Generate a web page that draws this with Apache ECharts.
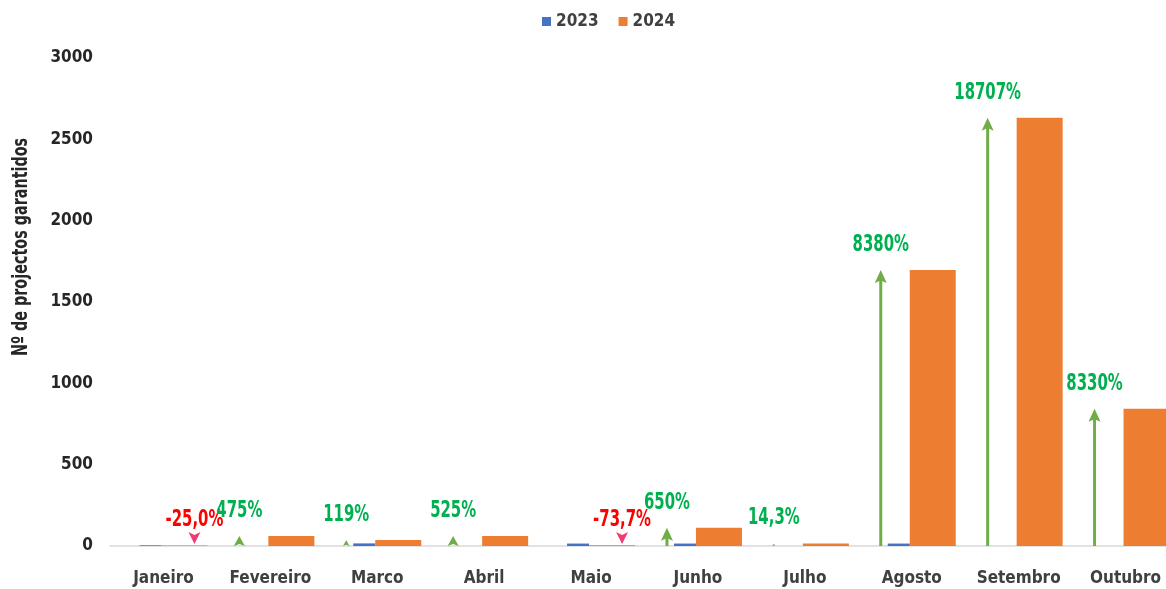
<!DOCTYPE html>
<html>
<head>
<meta charset="utf-8">
<script src="https://cdn.jsdelivr.net/npm/echarts@6/dist/echarts.min.js"></script>
<style>
  html, body { margin: 0; padding: 0; background: #fff; }
  #chart { width: 1166px; height: 589px; }
</style>
</head>
<body>
<div id="chart"></div>
<script>
// meses
var categories = ['Janeiro', 'Fevereiro', 'Marco', 'Abril', 'Maio', 'Junho', 'Julho', 'Agosto', 'Setembro', 'Outubro']
// Nº de projectos garantidos
var values2023 = [4, 0, 16, 0, 15, 15, 0, 15, 0, 0]
var values2024 = [3, 62, 37, 62, 5, 112, 16, 1696, 2633, 843]
// variação 2024 vs 2023
var variationLabels = ['-25,0%', '475%', '119%', '525%', '-73,7%', '650%', '14,3%', '8380%', '18707%', '8330%']
var yTicks = [0, 500, 1000, 1500, 2000, 2500, 3000]

var FONT = "'DejaVu Sans Condensed', 'Liberation Sans Narrow', sans-serif"
var GREEN = '#70AD47'
var GREEN_TXT = '#00B050'
var RED_TXT = '#FF0000'
var PINK = '#EE3A75'

var chart = echarts.init(document.getElementById('chart'))

function pctText(x, y, text, color) {
  return {
    type: 'text',
    x: x, y: y,
    scaleX: 0.72,
    style: { text: text, fill: color, font: 'bold 23px ' + FONT, align: 'center', verticalAlign: 'middle' }
  }
}

function renderArrow(params, api) {
  var i = params.dataIndex
  var base = api.coord([i, 0])
  var cx = base[0], by = base[1]
  var label = variationLabels[i]
  var up = label.charAt(0) !== '-'
  var children = []
  if (up) {
    var ax = cx - 31
    var top = api.coord([i, api.value(1)])[1]
    var len = by - top
    var h = Math.min(13, len)
    var w = Math.min(12, len * 1.1)
    if (len > h) {
      children.push({
        type: 'line',
        shape: { x1: ax, y1: by, x2: ax, y2: top + h * 0.7 },
        style: { stroke: GREEN, lineWidth: 3 }
      })
    }
    children.push({
      type: 'polygon',
      shape: { points: [[ax, top], [ax - w / 2, top + h], [ax, top + h * 0.8], [ax + w / 2, top + h]] },
      style: { fill: GREEN }
    })
    children.push(pctText(ax, top - 25, label, GREEN_TXT))
  } else {
    var dx = cx + 31
    var tip = by - 2
    children.push({
      type: 'polygon',
      shape: { points: [[dx, tip], [dx - 6, tip - 12], [dx, tip - 9], [dx + 6, tip - 12]] },
      style: { fill: PINK }
    })
    children.push(pctText(dx, by - 26, label, RED_TXT))
  }
  return { type: 'group', children: children }
}

chart.setOption({
  animation: false,
  legend: {
    data: ['2023', '2024'],
    left: 537,
    top: 8,
    itemWidth: 9,
    itemHeight: 9,
    itemGap: 20,
    icon: 'rect',
    textStyle: { fontFamily: FONT, fontWeight: 'bold', fontSize: 17, color: '#404040' }
  },
  grid: {
    left: 110,
    width: 1069,
    top: 58,
    bottom: 43,
    containLabel: false,
    outerBoundsMode: 'none'
  },
  xAxis: {
    type: 'category',
    data: categories,
    axisTick: { show: false },
    axisLine: { lineStyle: { color: '#D9D9D9', width: 1.5 } },
    axisLabel: {
      margin: 24,
      fontFamily: FONT,
      fontWeight: 'bold',
      fontSize: 17,
      color: '#404040',
      interval: 0
    }
  },
  yAxis: {
    type: 'value',
    min: yTicks[0],
    max: yTicks[yTicks.length - 1],
    interval: 500,
    splitLine: { show: false },
    axisLine: { show: false },
    axisTick: { show: false },
    axisLabel: {
      margin: 17,
      fontFamily: FONT,
      fontWeight: 'bold',
      fontSize: 17,
      color: '#262626',
      formatter: function (v) { return String(v) }
    }
  },
  graphic: [{
    type: 'text',
    x: 22,
    y: 247,
    rotation: Math.PI / 2,
    scaleX: 0.76,
    style: {
      text: 'Nº de projectos garantidos',
      font: 'bold 21px ' + FONT,
      fill: '#262626',
      align: 'center',
      verticalAlign: 'middle'
    }
  }],
  series: [
    {
      // espaço reservado para as setas
      name: 'pad',
      type: 'bar',
      barWidth: 20,
      barGap: '0%',
      itemStyle: { color: 'rgba(0,0,0,0)' },
      data: categories.map(function () { return 0 }),
      silent: true
    },
    {
      name: '2023',
      type: 'bar',
      barWidth: 22,
      barGap: '0%',
      itemStyle: { color: '#4472C4' },
      data: values2023
    },
    {
      name: '2024',
      type: 'bar',
      barWidth: 46,
      barGap: '0%',
      itemStyle: { color: '#ED7D31' },
      data: values2024
    },
    {
      name: 'variacao',
      type: 'custom',
      renderItem: renderArrow,
      encode: { x: 0, y: 1 },
      data: values2024.map(function (v, i) { return [i, v] }),
      z: 5
    }
  ]
})
</script>
</body>
</html>
